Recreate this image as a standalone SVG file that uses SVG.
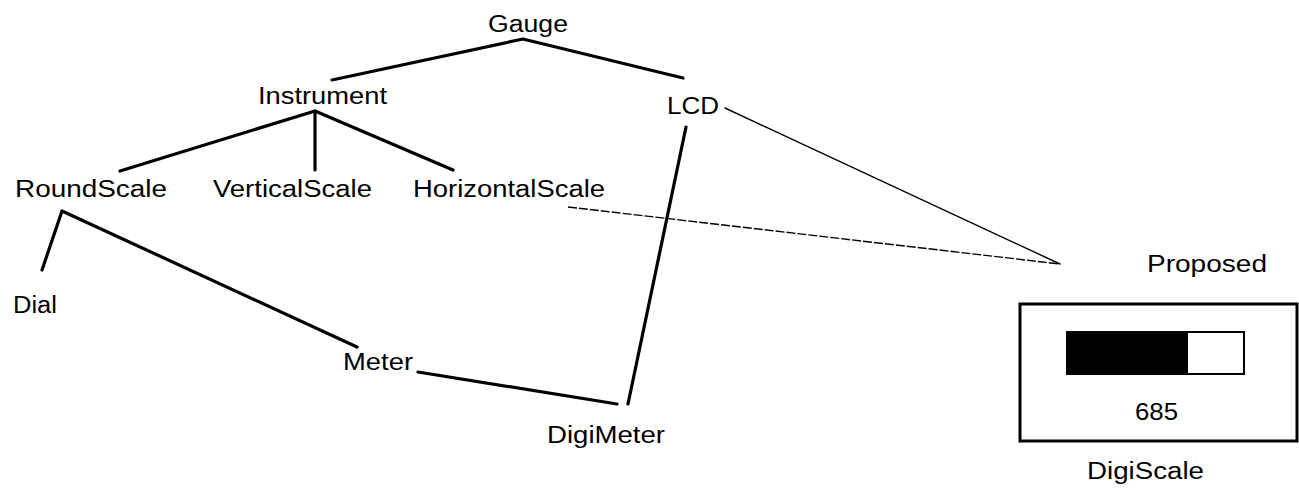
<svg xmlns="http://www.w3.org/2000/svg" width="1299" height="497" viewBox="0 0 1299 497">
<style>
text{font-family:"Liberation Sans",Arial,sans-serif;font-size:23px;fill:#000}
.thick{fill:none;stroke:#000;stroke-width:3.2;stroke-linecap:round;stroke-linejoin:round}
.thin{fill:none;stroke:#000;stroke-width:1.4;stroke-linecap:round}
.dash{fill:none;stroke:#000;stroke-width:1.4;stroke-dasharray:9 2}
</style>
<rect width="1299" height="497" fill="#fff"/>
<g id="connectors">
<polyline class="thick" points="332,80 523,39 683,78"/>
<polyline class="thick" points="120,171 315,111 453,170"/>
<line class="thick" x1="315" y1="111" x2="315" y2="170"/>
<polyline class="thick" points="42,270 62,211 357,347"/>
<line class="thick" x1="418" y1="372" x2="617" y2="404"/>
<line class="thick" x1="686" y1="127" x2="628" y2="404"/>
<line class="thin" x1="725" y1="108" x2="1060" y2="264"/>
<line class="dash" x1="568" y1="207" x2="1060" y2="264"/>
</g>
<g id="gauge"><text x="488" y="32" textLength="80" lengthAdjust="spacingAndGlyphs">Gauge</text></g>
<g id="instrument"><text x="258" y="104" textLength="129" lengthAdjust="spacingAndGlyphs">Instrument</text></g>
<g id="lcd"><text x="667" y="114" textLength="52" lengthAdjust="spacingAndGlyphs">LCD</text></g>
<g id="roundscale"><text x="15" y="197" textLength="152" lengthAdjust="spacingAndGlyphs">RoundScale</text></g>
<g id="verticalscale"><text x="213" y="197" textLength="159" lengthAdjust="spacingAndGlyphs">VerticalScale</text></g>
<g id="horizontalscale"><text x="413" y="197" textLength="192" lengthAdjust="spacingAndGlyphs">HorizontalScale</text></g>
<g id="dial"><text x="13" y="313" textLength="44" lengthAdjust="spacingAndGlyphs">Dial</text></g>
<g id="meter"><text x="343" y="370" textLength="70" lengthAdjust="spacingAndGlyphs">Meter</text></g>
<g id="digimeter"><text x="547" y="443" textLength="118" lengthAdjust="spacingAndGlyphs">DigiMeter</text></g>
<g id="digiscale">
<text x="1147" y="272" textLength="120" lengthAdjust="spacingAndGlyphs">Proposed</text>
<rect x="1020" y="304" width="277" height="137" fill="#fff" stroke="#000" stroke-width="3"/>
<rect x="1066" y="331" width="121" height="44" fill="#000"/>
<rect x="1187" y="332" width="57" height="42" fill="#fff" stroke="#000" stroke-width="2"/>
<text x="1135" y="420" textLength="43" lengthAdjust="spacingAndGlyphs">685</text>
<text x="1087" y="479" textLength="117" lengthAdjust="spacingAndGlyphs">DigiScale</text>
</g>
</svg>
